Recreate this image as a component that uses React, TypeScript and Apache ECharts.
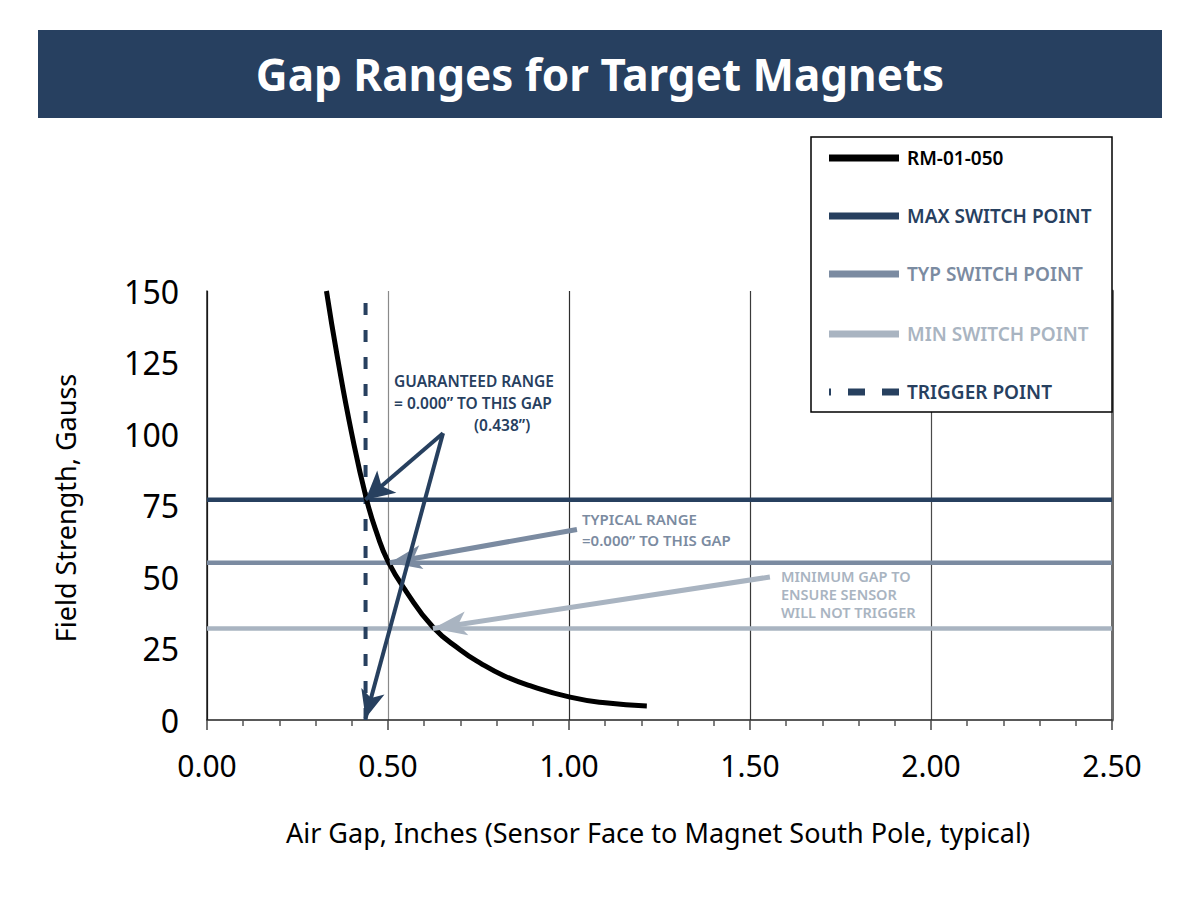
import { useEffect, useRef } from "react";
import * as echarts from "echarts";

// Field strength of the RM-01-050 target magnet against air gap
const airGapIn = [0.33, 0.36, 0.4, 0.441, 0.47, 0.5, 0.55, 0.624, 0.7, 0.754, 0.82, 0.892, 1.003, 1.1, 1.215];
const fieldGauss = [150, 127, 100, 77, 65, 55.5, 45, 32.5, 24.5, 20, 15.5, 12, 8, 6, 4.9];

// Sensor switch thresholds (Gauss) and the trigger gap (inches)
const maxSwitchPoint = 77;
const typSwitchPoint = 55;
const minSwitchPoint = 32;
const triggerGap = 0.438;

// Axis ranges
const xRange = [0, 2.5];
const yRange = [0, 150];

// Callout arrows, in data units: [gap, gauss]
const guaranteedApex = [0.652, 100.3];
const guaranteedTips = [
  [0.438, 77],
  [0.438, 0.6],
];
const typicalArrow = [
  [1.022, 66.6],
  [0.505, 55],
];
const minimumArrow = [
  [1.555, 50],
  [0.624, 32],
];

const NAVY = "#27405f";
const TYP = "#7b8ba1";
const MIN = "#a9b4c1";
const FONT = "Noto Sans";

const legendItems = [
  { label: "RM-01-050", color: "#000000", y: 158, dashed: false },
  { label: "MAX SWITCH POINT", color: NAVY, y: 216, dashed: false },
  { label: "TYP SWITCH POINT", color: TYP, y: 274, dashed: false },
  { label: "MIN SWITCH POINT", color: MIN, y: 334, dashed: false },
  { label: "TRIGGER POINT", color: NAVY, y: 392, dashed: true },
];

function arrow(from: number[], to: number[], size: number[]) {
  return [
    { coord: from, symbol: "none" },
    { coord: to, symbol: "arrow", symbolSize: size },
  ];
}

function textEl(
  text: string,
  x: number,
  y: number,
  color: string,
  size: number,
  weight: any = 600,
  align = "left",
  lineHeight?: number,
  verticalAlign = "middle"
) {
  return {
    type: "text",
    z: 110,
    x,
    y,
    style: {
      text,
      fill: color,
      fontFamily: FONT,
      fontSize: size,
      fontWeight: weight,
      lineHeight: lineHeight ?? size * 1.2,
      align,
      verticalAlign,
    },
  };
}

export default function App() {
  const ref = useRef<HTMLDivElement>(null);

  useEffect(() => {
    if (!ref.current) return;
    const chart = echarts.init(ref.current, undefined, { renderer: "svg" });

    const hLine = (v: number) => [
      [xRange[0], v],
      [xRange[1], v],
    ];

    const legendGraphics: any[] = [
      {
        type: "rect",
        z: 100,
        shape: { x: 811, y: 137, width: 301, height: 275 },
        style: { fill: "#ffffff", stroke: "#000000", lineWidth: 1.5 },
      },
    ];
    legendItems.forEach((it) => {
      legendGraphics.push({
        type: "line",
        z: 105,
        shape: { x1: 829, y1: it.y, x2: 899, y2: it.y },
        style: it.dashed
          ? { stroke: it.color, lineWidth: 7, lineDash: [17, 17], lineDashOffset: 15 }
          : { stroke: it.color, lineWidth: 7 },
      });
      legendGraphics.push(textEl(it.label, 907, it.y, it.color, 19));
    });

    const option: any = {
      animation: false,
      backgroundColor: "#ffffff",
      grid: { left: 207, right: 88, top: 291, bottom: 180 },
      xAxis: {
        type: "value",
        min: xRange[0],
        max: xRange[1],
        interval: 0.5,
        axisLine: { show: true, lineStyle: { color: "#222", width: 1.5 } },
        axisTick: { show: true, length: 10, lineStyle: { color: "#444", width: 1.5 } },
        minorTick: { show: true, splitNumber: 5, length: 6, lineStyle: { color: "#555", width: 1.5 } },
        splitLine: {
          show: true,
          lineStyle: { color: ["#000", "#8a8a8a", "#2e2e2e", "#3a3a3a", "#4a4a4a", "#888"], width: 1.2 },
        },
        axisLabel: {
          color: "#000",
          fontFamily: FONT,
          fontSize: 30,
          margin: 30,
          formatter: (v: number) => v.toFixed(2),
        },
      },
      yAxis: [
        {
          type: "value",
          min: yRange[0],
          max: yRange[1],
          interval: 25,
          axisLine: { show: true, lineStyle: { color: "#222", width: 1.5 } },
          axisTick: { show: false },
          splitLine: { show: false },
          axisLabel: { color: "#000", fontFamily: FONT, fontSize: 32, margin: 28 },
        },
        {
          type: "value",
          position: "right",
          min: yRange[0],
          max: yRange[1],
          interval: 25,
          axisLine: { show: true, lineStyle: { color: "#6e6e6e", width: 3 } },
          axisTick: { show: false },
          splitLine: { show: false },
          axisLabel: { show: false },
        },
      ],
      series: [
        {
          name: "MIN SWITCH POINT",
          type: "line",
          data: hLine(minSwitchPoint),
          showSymbol: false,
          silent: true,
          z: 2,
          lineStyle: { color: MIN, width: 4.5 },
          markLine: {
            silent: true,
            label: { show: false },
            lineStyle: { color: MIN, width: 5, type: "solid" },
            symbol: ["none", "arrow"],
            data: [arrow(minimumArrow[0], minimumArrow[1], [18, 34])],
          },
        },
        {
          name: "TYP SWITCH POINT",
          type: "line",
          data: hLine(typSwitchPoint),
          showSymbol: false,
          silent: true,
          z: 2,
          lineStyle: { color: TYP, width: 4.5 },
          markLine: {
            silent: true,
            label: { show: false },
            lineStyle: { color: TYP, width: 5, type: "solid" },
            symbol: ["none", "arrow"],
            data: [arrow(typicalArrow[0], typicalArrow[1], [18, 32])],
          },
        },
        {
          name: "MAX SWITCH POINT",
          type: "line",
          data: hLine(maxSwitchPoint),
          showSymbol: false,
          silent: true,
          z: 2,
          lineStyle: { color: NAVY, width: 4.5 },
        },
        {
          name: "TRIGGER POINT",
          type: "line",
          data: [
            [triggerGap, yRange[0]],
            [triggerGap, yRange[1]],
          ],
          showSymbol: false,
          silent: true,
          z: 3,
          lineStyle: { color: NAVY, width: 4, type: [12, 15] },
        },
        {
          name: "RM-01-050",
          type: "line",
          data: airGapIn.map((x, i) => [x, fieldGauss[i]]),
          smooth: 0.5,
          showSymbol: false,
          silent: true,
          z: 4,
          lineStyle: { color: "#000", width: 5 },
          markLine: {
            silent: true,
            z: 5,
            label: { show: false },
            lineStyle: { color: NAVY, width: 4, type: "solid" },
            symbol: ["none", "arrow"],
            data: [
              arrow(guaranteedApex, guaranteedTips[0], [22, 28]),
              arrow(guaranteedApex, guaranteedTips[1], [18, 28]),
            ],
          },
        },
      ],
      graphic: [
        {
          type: "rect",
          z: 100,
          shape: { x: 38, y: 30, width: 1124, height: 88 },
          style: { fill: "#274060" },
        },
        textEl("Gap Ranges for Target Magnets", 600, 74, "#ffffff", 44, 700, "center"),
        ...legendGraphics,
        textEl("GUARANTEED RANGE\n= 0.000\u201d TO THIS GAP", 394, 370, NAVY, 15.5, 600, "left", 22, "top"),
        textEl("(0.438\u201d)", 474, 425, NAVY, 15.5),
        textEl("TYPICAL RANGE\n=0.000\u201d TO THIS GAP", 582, 508, TYP, 15, 600, "left", 21, "top"),
        textEl("MINIMUM GAP TO\nENSURE SENSOR\nWILL NOT TRIGGER", 781, 567, MIN, 14.5, 600, "left", 18, "top"),
        textEl("Air Gap, Inches (Sensor Face to Magnet South Pole, typical)", 658, 832, "#000", 27, 400, "center"),
        {
          type: "text",
          z: 110,
          x: 65,
          y: 508,
          rotation: Math.PI / 2,
          style: {
            text: "Field Strength, Gauss",
            fill: "#000",
            fontFamily: FONT,
            fontSize: 27,
            fontWeight: 400,
            align: "center",
            verticalAlign: "middle",
          },
        },
      ],
    };

    chart.setOption(option);
    return () => chart.dispose();
  }, []);

  return (
    <div
      ref={ref}
      style={{ position: "fixed", left: 0, top: 0, width: 1200, height: 900, background: "#fff" }}
    />
  );
}
